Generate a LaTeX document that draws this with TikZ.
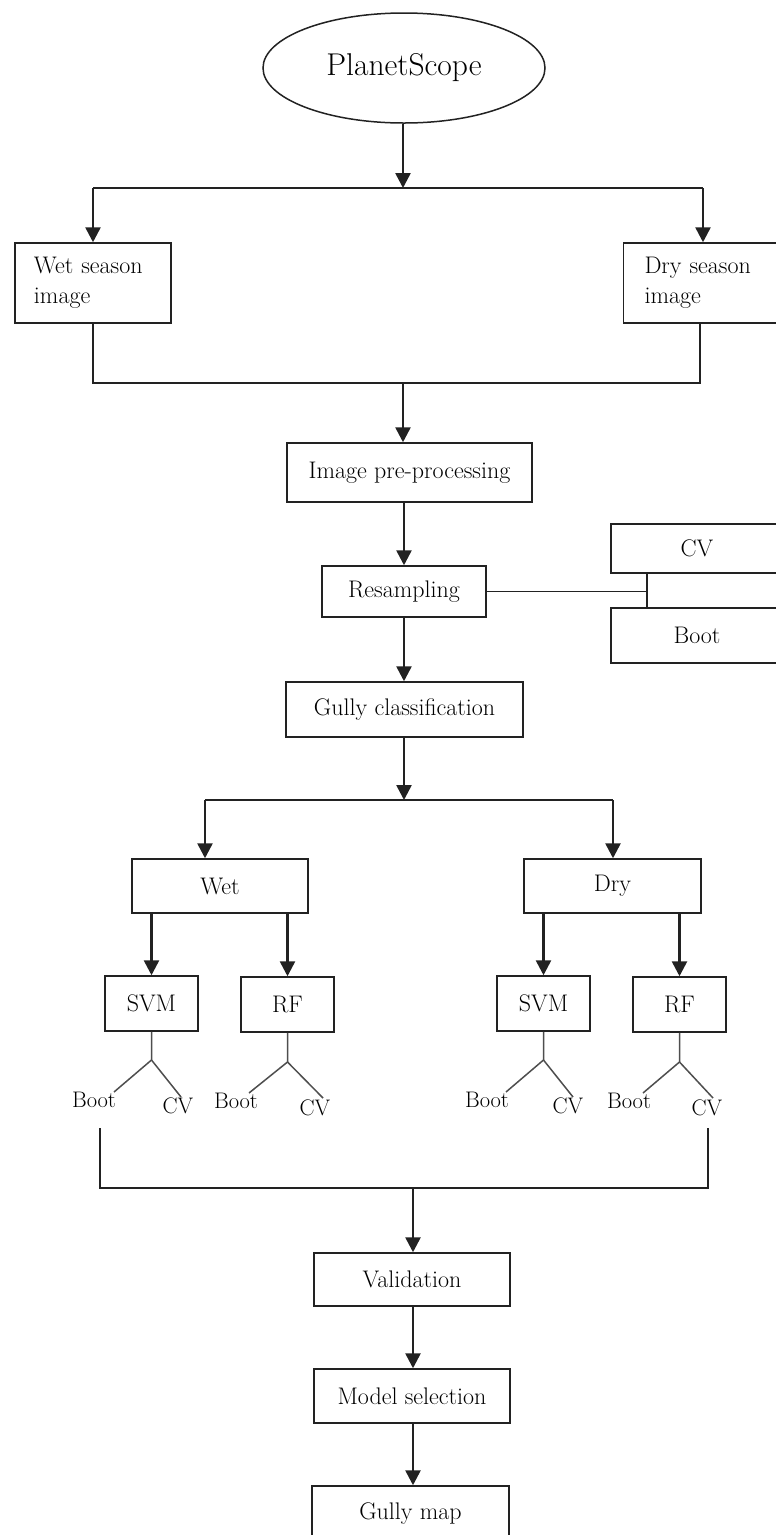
\documentclass[tikz,border=0pt]{standalone}
\usetikzlibrary{shapes.geometric,arrows.meta}
\definecolor{ink}{HTML}{222222}
\begin{document}
\begin{tikzpicture}[x=1pt,y=-1pt,
  box/.style={draw=ink,line width=1.5pt,rectangle,inner sep=0pt,font=\fontsize{24}{30}\selectfont},
  leftbox/.style={box,align=left,font=\fontsize{24}{30}\selectfont},
  lbl/.style={inner sep=0pt,font=\fontsize{22.5}{26}\selectfont},
  arr/.style={draw=ink,line width=2.6pt,-{Triangle[width=15pt,length=15pt]}},
  ln/.style={draw=ink,line width=1.7pt},
  fk/.style={draw=ink!80,line width=1.5pt}]
\useasboundingbox (0,0) rectangle (776,1535);
\fill[white] (0,0) rectangle (776,1535);
\clip (0,0) rectangle (776,1535);

% nodes
\node[draw=ink,line width=1.5pt,ellipse,minimum width=282pt,minimum height=110pt,inner sep=0pt,font=\fontsize{31.5}{36}\selectfont] (ps) at (404,68) {PlanetScope};
\node[leftbox,minimum width=155pt,minimum height=80pt,text width=118pt,inner xsep=19pt] (wetimg) at (93,283) {Wet season\\image};
\node[leftbox,minimum width=166pt,minimum height=80pt,text width=125pt,inner xsep=21pt] (dryimg) at (707,283) {Dry season\\image};
\node[box,minimum width=245pt,minimum height=59pt] (prep) at (409.5,472.5) {Image pre-processing};
\node[box,minimum width=164pt,minimum height=51pt] (resamp) at (404,591.5) {Resampling};
\node[box,minimum width=172pt,minimum height=49pt] (cv) at (697,548.5) {CV};
\node[box,minimum width=172pt,minimum height=55pt] (boot) at (697,635.5) {Boot};
\node[box,minimum width=237pt,minimum height=55pt] (gully) at (404.5,709.5) {Gully classification};
\node[box,minimum width=176pt,minimum height=54pt] (wet) at (220,886) {Wet};
\node[box,minimum width=177pt,minimum height=54pt] (dry) at (612.5,886) {Dry};
\node[box,minimum width=93pt,minimum height=55pt] (svma) at (151.5,1003.5) {SVM};
\node[box,minimum width=93pt,minimum height=55pt] (rfa) at (287.5,1004.5) {RF};
\node[box,minimum width=93pt,minimum height=55pt] (svmb) at (543.5,1003.5) {SVM};
\node[box,minimum width=93pt,minimum height=55pt] (rfb) at (679.5,1004.5) {RF};
\node[lbl] (boota) at (94,1100) {Boot};
\node[lbl] (cva) at (178,1106) {CV};
\node[lbl] (bootb) at (236,1101) {Boot};
\node[lbl] (cvb) at (315,1108) {CV};
\node[lbl] (bootc) at (487,1100) {Boot};
\node[lbl] (cvc) at (568,1106) {CV};
\node[lbl] (bootd) at (629,1101) {Boot};
\node[lbl] (cvd) at (707,1108) {CV};
\node[box,minimum width=196pt,minimum height=53pt] (valid) at (412,1279.5) {Validation};
\node[box,minimum width=196pt,minimum height=54pt] (model) at (412,1396) {Model selection};
\node[box,minimum width=197pt,minimum height=55pt] (map) at (410.5,1513.5) {Gully map};

% coordinates
\coordinate (t1) at (403,188);
\coordinate (bl) at (93,188);
\coordinate (br) at (703,188);
\coordinate (j1) at (403,383);
\coordinate (jr) at (700,383);
\coordinate (c) at (404,0);
\coordinate (rj) at (647,591.5);
\coordinate (b2) at (404,800);
\coordinate (b2l) at (205,800);
\coordinate (b2r) at (613,800);
\coordinate (fa) at (151.5,1060);
\coordinate (fb) at (287.5,1062);
\coordinate (fc) at (543.5,1060);
\coordinate (fd) at (679.5,1062);
\coordinate (ea1) at (114,1092);
\coordinate (ea2) at (181,1097);
\coordinate (eb1) at (249,1093);
\coordinate (eb2) at (323,1098);
\coordinate (ec1) at (506,1092);
\coordinate (ec2) at (573,1097);
\coordinate (ed1) at (643,1093);
\coordinate (ed2) at (713,1098);
\coordinate (k1) at (100,1128);
\coordinate (k2) at (708,1128);
\coordinate (k3) at (413,1188);

% top
\draw[arr] (ps.south -| t1) -- (t1);
\draw[ln] (bl) -- (br);
\draw[arr] (bl) -- (bl |- wetimg.north);
\draw[arr] (br) -- (br |- dryimg.north);
\draw[ln] (wetimg.south) |- (jr) -- (jr |- dryimg.south);
\draw[arr] (j1) -- (j1 |- prep.north);
\draw[arr] (prep.south -| c) -- (resamp.north -| c);
\draw[ln] (resamp.east) -- (rj);
\draw[ln] (rj |- cv.south) -- (rj |- boot.north);
\draw[arr] (resamp.south -| c) -- (gully.north -| c);
\draw[arr] (gully.south -| c) -- (b2);
\draw[ln] (b2l) -- (b2r);
\draw[arr] (b2l) -- (b2l |- wet.north);
\draw[arr] (b2r) -- (b2r |- dry.north);
\draw[arr] (wet.south -| svma.north) -- (svma.north);
\draw[arr] (wet.south -| rfa.north) -- (rfa.north);
\draw[arr] (dry.south -| svmb.north) -- (svmb.north);
\draw[arr] (dry.south -| rfb.north) -- (rfb.north);

% forks
\draw[fk] (svma.south) -- (fa) -- (ea1);
\draw[fk] (fa) -- (ea2);
\draw[fk] (rfa.south) -- (fb) -- (eb1);
\draw[fk] (fb) -- (eb2);
\draw[fk] (svmb.south) -- (fc) -- (ec1);
\draw[fk] (fc) -- (ec2);
\draw[fk] (rfb.south) -- (fd) -- (ed1);
\draw[fk] (fd) -- (ed2);

% collector
\draw[ln] (k1) |- (k3) -| (k2);
\draw[arr] (k3) -- (k3 |- valid.north);
\draw[arr] (valid.south -| k3) -- (model.north -| k3);
\draw[arr] (model.south -| k3) -- (map.north -| k3);
\end{tikzpicture}
\end{document}
